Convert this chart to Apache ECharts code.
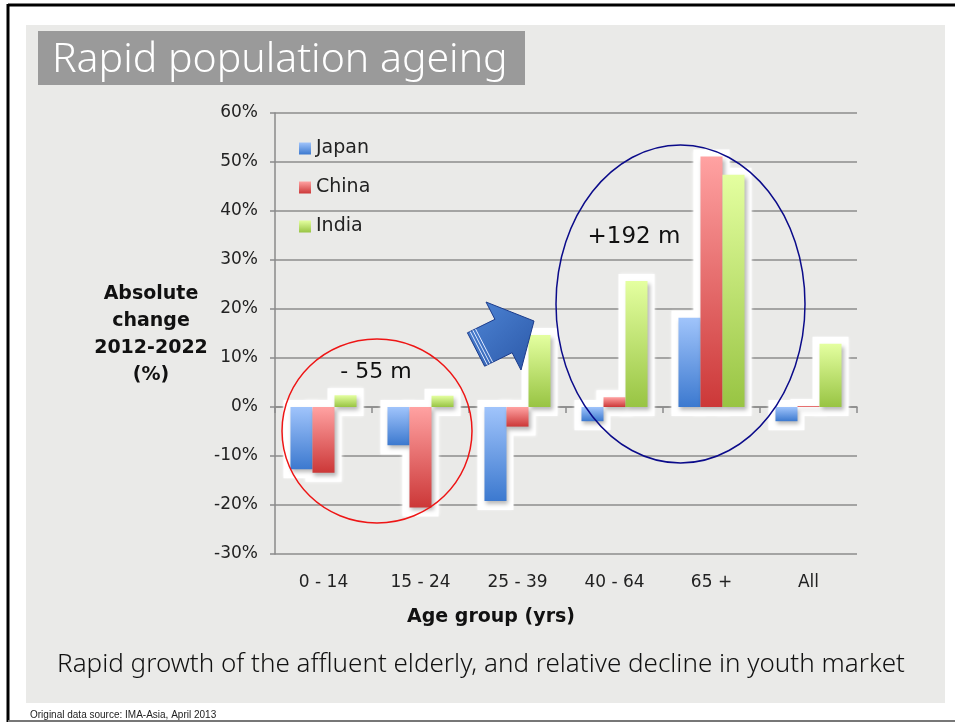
<!DOCTYPE html>
<html>
<head>
<meta charset="utf-8">
<title>Rapid population ageing</title>
<script src="https://cdn.jsdelivr.net/npm/echarts@6/dist/echarts.min.js"></script>
<style>
  html, body { margin: 0; padding: 0; background: #ffffff; }
  #chart { width: 955px; height: 722px; }
</style>
</head>
<body>
<div id="chart"></div>
<script>
// Age groups on the category axis
const categories = ['0 - 14', '15 - 24', '25 - 39', '40 - 64', '65 +', 'All'];
// Absolute change 2012-2022 (%) by country
const japan = [-12.7, -7.8, -19.2, -2.9, 18.2, -2.9];
const china = [-13.4, -20.5, -4.0, 2.0, 51.1, 0.2];
const india = [2.4, 2.3, 14.7, 25.7, 47.4, 12.9];
// Value axis ticks
const yTicks = { min: -30, max: 60, step: 10 };

const countries = ['Japan', 'China', 'India'];
const values = [japan, china, india];
const stops = [
  ['#a0c4fb', '#3c79cf'],
  ['#ffa2a2', '#cc3838'],
  ['#e4ffa0', '#98c443']
];

const thinFont = '"Noto Sans", "DejaVu Sans", sans-serif';

const chart = echarts.init(document.getElementById('chart'), null, { renderer: 'canvas' });
const grad = (s) => new echarts.graphic.LinearGradient(0, 0, 0, 1, [
  { offset: 0, color: s[0] }, { offset: 1, color: s[1] }
]);

// geometry of a single bar within its category band
function barRect(api, slot) {
  const cat = api.value(0), val = api.value(1);
  const band = api.size([1, 0])[0];
  const w = band * 0.227;
  const top = api.coord([cat, val]);
  const base = api.coord([cat, 0]);
  const x = top[0] + (slot - 1) * w - w / 2;
  const y = Math.min(top[1], base[1]);
  const h = Math.max(Math.abs(top[1] - base[1]), 1);
  return { x, y, w, h };
}

// white halo behind every bar (drawn below all bars)
const haloData = [];
values.forEach((arr, s) => arr.forEach((v, i) => haloData.push([i, v, s])));
const haloSeries = {
  type: 'custom',
  name: 'halo',
  silent: true,
  z: 1,
  data: haloData,
  renderItem: function (params, api) {
    const r = barRect(api, api.value(2));
    const p = 7;
    return {
      type: 'rect',
      shape: { x: r.x - p, y: r.y - p, width: r.w + 2 * p, height: r.h + 2 * p + 2 },
      style: { fill: '#ffffff', shadowBlur: 3, shadowColor: 'rgba(255,255,255,0.9)' }
    };
  }
};

const barSeries = countries.map((name, s) => ({
  type: 'custom',
  name: name,
  z: 2,
  itemStyle: { color: grad(stops[s]) },
  data: values[s].map((v, i) => [i, v]),
  renderItem: function (params, api) {
    const r = barRect(api, s);
    return {
      type: 'rect',
      shape: { x: r.x, y: r.y, width: r.w, height: r.h },
      style: {
        fill: grad(stops[s]),
        shadowBlur: 4, shadowOffsetX: 2, shadowOffsetY: 3,
        shadowColor: 'rgba(0,0,0,0.28)'
      }
    };
  }
}));

// block arrow pointing towards the elderly groups
const arrowPts = [[467.4, 332.8], [494.9, 319.3], [486, 302], [534, 321], [521, 370], [512.1, 352.7], [484.6, 366.2]];
const dir = [0.898, -0.441];
const stripe = (k) => ({
  type: 'line',
  shape: {
    x1: 467.4 + dir[0] * k, y1: 332.8 + dir[1] * k,
    x2: 484.6 + dir[0] * k, y2: 366.2 + dir[1] * k
  },
  style: { stroke: '#dfe8ff', lineWidth: 1 },
  z: 12
});

const option = {
  backgroundColor: '#ffffff',
  animation: false,
  textStyle: { fontFamily: 'DejaVu Sans' },
  grid: { left: 275, right: 98, top: 113, bottom: 168 },
  legend: {
    orient: 'vertical',
    left: 294, top: 134,
    data: countries,
    icon: 'rect',
    itemWidth: 12, itemHeight: 12,
    itemGap: 20,
    textStyle: { fontSize: 19, color: '#222', fontFamily: 'DejaVu Sans' }
  },
  xAxis: [
    {
      type: 'category',
      data: categories,
      position: 'bottom',
      axisLine: { show: false, onZero: false },
      axisTick: { show: false },
      axisLabel: { margin: 20, fontSize: 17, color: '#222', fontFamily: 'DejaVu Sans' }
    },
    {
      type: 'category',
      data: categories,
      position: 'top',
      axisLine: { show: true, onZero: true, lineStyle: { color: '#8a8a8a', width: 1.5 } },
      axisTick: { show: true, inside: true, length: 6, lineStyle: { color: '#8a8a8a', width: 1.5 } },
      axisLabel: { show: false }
    }
  ],
  yAxis: {
    type: 'value',
    min: yTicks.min, max: yTicks.max, interval: yTicks.step,
    axisLine: { show: true, lineStyle: { color: '#8a8a8a', width: 1.5 } },
    axisTick: { show: true, length: 5, lineStyle: { color: '#8a8a8a', width: 1.5 } },
    splitLine: { show: true, lineStyle: { color: '#8c8c8c', width: 1.5 } },
    axisLabel: { formatter: '{value}%', margin: 17, fontSize: 17, color: '#222', fontFamily: 'DejaVu Sans' }
  },
  series: [haloSeries].concat(barSeries),
  graphic: [
    // slide frame and panel
    { type: 'rect', z: -10, shape: { x: 26, y: 25, width: 919, height: 678 }, style: { fill: '#eaeae8' } },
    { type: 'line', z: 20, shape: { x1: 8, y1: 5, x2: 955, y2: 5 }, style: { stroke: '#000', lineWidth: 3 } },
    { type: 'line', z: 20, shape: { x1: 8, y1: 4, x2: 8, y2: 722 }, style: { stroke: '#000', lineWidth: 3 } },
    { type: 'line', z: 20, shape: { x1: 8, y1: 721, x2: 955, y2: 721 }, style: { stroke: '#777', lineWidth: 2 } },
    // title banner
    { type: 'rect', z: 5, shape: { x: 38, y: 31, width: 487, height: 54 }, style: { fill: '#9a9a9a' } },
    { type: 'text', z: 6, x: 52, y: 60, style: { text: 'Rapid population ageing', fill: '#ffffff', font: '300 41px ' + thinFont, verticalAlign: 'middle' } },
    // axis titles
    { type: 'text', z: 6, x: 151, y: 335, style: { text: 'Absolute\nchange\n2012-2022\n(%)', fill: '#111', font: 'bold 19px "DejaVu Sans"', align: 'center', verticalAlign: 'middle', lineHeight: 27 } },
    { type: 'text', z: 6, x: 491, y: 617, style: { text: 'Age group (yrs)', fill: '#111', font: 'bold 19px "DejaVu Sans"', align: 'center', verticalAlign: 'middle' } },
    // highlight ellipses and annotations
    { type: 'ellipse', z: 15, silent: true, shape: { cx: 377, cy: 431, rx: 95, ry: 92 }, style: { fill: 'none', stroke: '#ee1515', lineWidth: 1.5 } },
    { type: 'ellipse', z: 15, silent: true, shape: { cx: 680.5, cy: 304, rx: 124.5, ry: 159 }, style: { fill: 'none', stroke: '#0b0b8a', lineWidth: 1.5 } },
    { type: 'text', z: 16, x: 376, y: 372, style: { text: '- 55 m', fill: '#111', font: '22px "DejaVu Sans"', align: 'center', verticalAlign: 'middle' } },
    { type: 'text', z: 16, x: 634, y: 237, style: { text: '+192 m', fill: '#111', font: '23px "DejaVu Sans"', align: 'center', verticalAlign: 'middle' } },
    {
      type: 'polygon', z: 11,
      shape: { points: arrowPts },
      style: {
        fill: new echarts.graphic.LinearGradient(0, 0, 1, 1, [
          { offset: 0, color: '#4f86d6' }, { offset: 1, color: '#2b58a8' }
        ]),
        stroke: '#1c3c8c', lineWidth: 1
      }
    },
    stripe(3), stripe(6), stripe(9),
    // caption and source
    { type: 'text', z: 6, x: 481, y: 665, style: { text: 'Rapid growth of the affluent elderly, and relative decline in youth market', fill: '#111', font: '300 26px ' + thinFont, align: 'center', verticalAlign: 'middle' } },
    { type: 'text', z: 6, left: 30, top: 710, style: { text: 'Original data source: IMA-Asia, April 2013', fill: '#222', font: '10px "Liberation Sans"' } }
  ]
};

chart.setOption(option);
</script>
</body>
</html>
